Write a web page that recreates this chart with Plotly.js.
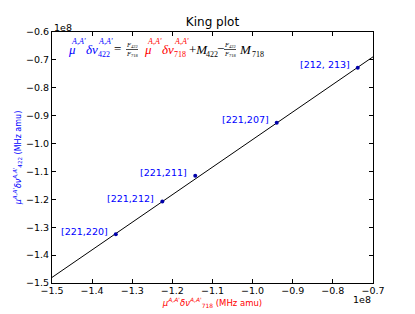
<!DOCTYPE html>
<html><head><meta charset="utf-8">
<script src="https://cdn.plot.ly/plotly-3.0.1.min.js"></script>
<style>html,body{margin:0;padding:0;background:#fff}#c{width:415px;height:314px}</style>
</head><body><div id="c"></div>
<script>
// values in units of 1e8 (MHz amu)
const pairLabels = ['[221,220]', '[221,212]', '[221,211]', '[221,207]', '[212, 213]'];
const x718 = [-1.341, -1.225, -1.143, -0.940, -0.738];
const y422 = [-1.325, -1.208, -1.115, -0.925, -0.728];
const fitX = [-1.5, -0.7];
const fitY = [-1.48, -0.689];
const xTicks = [-1.5, -1.4, -1.3, -1.2, -1.1, -1.0, -0.9, -0.8, -0.7];
const yTicks = [-1.5, -1.4, -1.3, -1.2, -1.1, -1.0, -0.9, -0.8, -0.7, -0.6];
const fmt = v => (v < 0 ? '\u2212' : '') + Math.abs(v).toFixed(1);

const L = 52, R = 373, T = 32, B = 283, W = 415, H = 314;
const px = x => (x - L) / (R - L);
const py = y => (B - y) / (B - T);

const sans = 'DejaVu Sans, sans-serif';
const serif = 'Liberation Serif, DejaVu Serif, serif';

const annotations = [];
pairLabels.forEach((t, i) => annotations.push({
  x: x718[i], y: y422[i], xref: 'x', yref: 'y', text: t, showarrow: false,
  xanchor: 'right', yanchor: 'middle', xshift: -6, yshift: 3,
  font: {family: sans, size: 9.5, color: '#0000ff'}
}));
// offset labels
annotations.push({x: px(52), y: py(27), xref: 'paper', yref: 'paper', text: '1e8', showarrow: false,
  xanchor: 'left', yanchor: 'middle', font: {family: sans, size: 9.5, color: '#000'}});
annotations.push({x: px(373), y: py(299.5), xref: 'paper', yref: 'paper', text: '1e8', showarrow: false,
  xanchor: 'right', yanchor: 'middle', font: {family: sans, size: 9.5, color: '#000'}});
// equation pieces
const eq = (x, y, text, color, size) => annotations.push({x: px(x), y: py(y), xref: 'paper', yref: 'paper',
  text: text, showarrow: false, xanchor: 'left', yanchor: 'middle', borderpad: 0,
  font: {family: serif, size: size, color: color}});
const BL = '#0000ff', RD = '#ff0000', BK = '#000000';
const main = 13, scr = 8, tiny = 6.5;
const yM = 49, ySup = 42, ySub = 54;
// blue left side
eq(67, yM, '<i>μ</i>', BL, main);
eq(70, ySup, "<i>A,A'</i>", BL, scr);
eq(85, yM, '<i>δν</i>', BL, main);
eq(97, ySup, "<i>A,A'</i>", BL, scr);
eq(97, ySub, '422', BL, scr);
eq(113, yM - 1, '=', BK, main);
// fraction 1
eq(125, 45, '<i>F</i><sub>422</sub>', BK, tiny);
eq(125, 54, '<i>F</i><sub>718</sub>', BK, tiny);
// red term
eq(143, yM, '<i>μ</i>', RD, main);
eq(146, ySup, "<i>A,A'</i>", RD, scr);
eq(161, yM, '<i>δν</i>', RD, main);
eq(173, ySup, "<i>A,A'</i>", RD, scr);
eq(173, ySub, '718', RD, scr);
// rest
eq(188, yM, '+<i>M</i>', BK, main);
eq(205, ySub, '422', BK, scr);
eq(216, yM - 1, '−', BK, main);
eq(223, 45, '<i>F</i><sub>422</sub>', BK, tiny);
eq(223, 54, '<i>F</i><sub>718</sub>', BK, tiny);
eq(238, yM, '<i>M</i>', BK, main);
eq(251, ySub, '718', BK, scr);

const shapes = [
  {type: 'line', xref: 'paper', yref: 'paper', x0: px(126), x1: px(138), y0: py(49.5), y1: py(49.5), line: {color: '#000', width: 0.7}},
  {type: 'line', xref: 'paper', yref: 'paper', x0: px(224), x1: px(236), y0: py(49.5), y1: py(49.5), line: {color: '#000', width: 0.7}}
];

const data = [
  {x: fitX, y: fitY, mode: 'lines', line: {color: '#000', width: 1}, hoverinfo: 'skip'},
  {x: x718, y: y422, mode: 'markers', marker: {color: '#0000aa', size: 4, symbol: 'circle'}}
];

const axisCommon = {showline: true, linecolor: '#000', linewidth: 1, mirror: 'ticks', ticks: 'inside',
  ticklen: 4, tickcolor: '#000', showgrid: false, zeroline: false, tickfont: {family: sans, size: 9.5, color: '#000'}};

const layout = {
  width: W, height: H, margin: {l: L, r: W - R, t: T, b: H - B}, showlegend: false,
  paper_bgcolor: '#fff', plot_bgcolor: '#fff',
  title: {text: 'King plot', font: {family: sans, size: 12, color: '#000'}, x: 0.512, xanchor: 'center', y: 1 - 22 / H, yanchor: 'middle'},
  xaxis: Object.assign({}, axisCommon, {range: [-1.5, -0.7], tickvals: xTicks, ticktext: xTicks.map(fmt), ticklabelstandoff: -1,
    title: {text: "<i>μ</i><sup><i>A,A'</i></sup><i>δν</i><sup><i>A,A'</i></sup><sub>718</sub> (MHz amu)", font: {family: sans, size: 8.5, color: '#ff0000'}, standoff: 2}}),
  yaxis: Object.assign({}, axisCommon, {range: [-1.5, -0.6], tickvals: yTicks, ticktext: yTicks.map(fmt),
    title: {text: "<i>μ</i><sup><i>A,A'</i></sup><i>δν</i><sup><i>A,A'</i></sup><sub>422</sub> (MHz amu)", font: {family: sans, size: 8, color: '#0000ff'}, standoff: 3}}),
  annotations: annotations, shapes: shapes
};
Plotly.newPlot('c', data, layout, {displayModeBar: false, staticPlot: true});
</script></body></html>
